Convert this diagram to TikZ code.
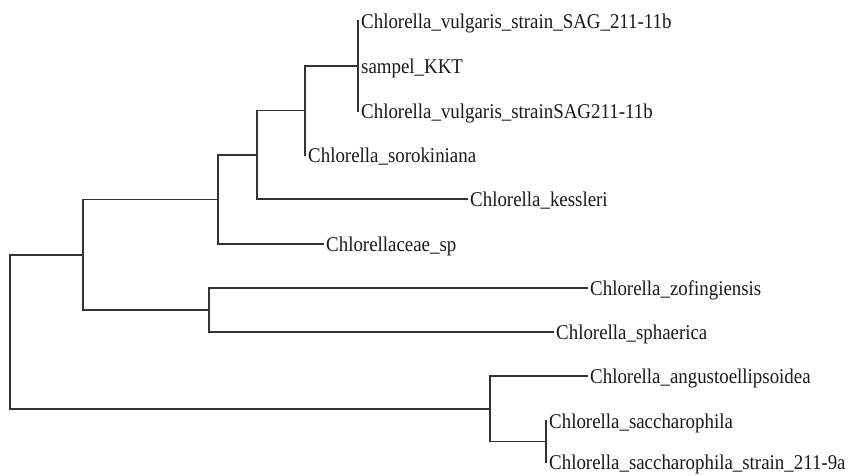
\documentclass[tikz,border=0pt]{standalone}
\usepackage{fontspec}
\setmainfont{Liberation Serif}[FakeStretch=0.9]
\begin{document}
\begin{tikzpicture}[x=1pt,y=-1pt,
  branch/.style={draw=black!80, line width=1.7pt, line cap=rect},
  leaf/.style={anchor=west, inner xsep=3pt, inner ysep=0pt, text height=14pt, text depth=0pt,
    text=black!90, font=\fontsize{21}{24}\selectfont}]
\useasboundingbox (0,0) rectangle (850,475);
% leaves
\node[leaf] (v1)  at (358,21)  {Chlorella\_vulgaris\_strain\_SAG\_211-11b};
\node[leaf] (kkt) at (358,66)  {sampel\_KKT};
\node[leaf] (v2)  at (358,111) {Chlorella\_vulgaris\_strainSAG211-11b};
\node[leaf] (sor) at (305,155) {Chlorella\_sorokiniana};
\node[leaf] (kes) at (467,199) {Chlorella\_kessleri};
\node[leaf] (csp) at (323,244) {Chlorellaceae\_sp};
\node[leaf] (zof) at (587,288) {Chlorella\_zofingiensis};
\node[leaf] (sph) at (553,332) {Chlorella\_sphaerica};
\node[leaf] (ang) at (587,376) {Chlorella\_angustoellipsoidea};
\node[leaf] (sac) at (546,421) {Chlorella\_saccharophila};
\node[leaf] (sst) at (546,462) {Chlorella\_saccharophila\_strain\_211-9a};
% internal nodes
\coordinate (C1) at (358,66);
\coordinate (C2) at (305,110.5);
\coordinate (C3) at (257,154.75);
\coordinate (C4) at (218,199.4);
\coordinate (C5) at (209,310);
\coordinate (A)  at (83,254.7);
\coordinate (D)  at (546,441.5);
\coordinate (B)  at (490,408.75);
\coordinate (R)  at (10,331.7);
% branches
\draw[branch] (R) |- (A);
\draw[branch] (R) |- (B);
\draw[branch] (A) |- (C4);
\draw[branch] (A) |- (C5);
\draw[branch] (C4) |- (C3);
\draw[branch] (C4) |- (csp.west);
\draw[branch] (C3) |- (C2);
\draw[branch] (C3) |- (kes.west);
\draw[branch] (C2) |- (C1);
\draw[branch] (C2) |- (sor.west);
\draw[branch] (C1) |- (v1.west);
\draw[branch] (C1) |- (v2.west);
\draw[branch] (C5) |- (zof.west);
\draw[branch] (C5) |- (sph.west);
\draw[branch] (B) |- (ang.west);
\draw[branch] (B) |- (D);
\draw[branch] (D) |- (sac.west);
\draw[branch] (D) |- (sst.west);
\end{tikzpicture}
\end{document}
